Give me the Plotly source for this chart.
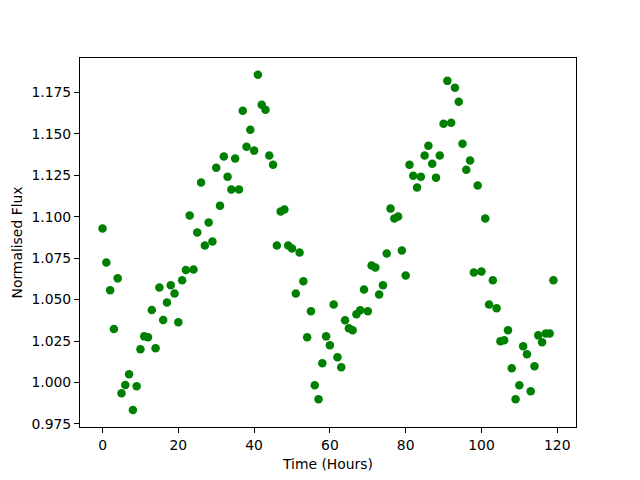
import plotly.graph_objects as go

hours = list(range(120))
flux = [
    1.0929, 1.0724, 1.0557, 1.0322, 1.0628, 0.9935, 0.9985, 1.0050, 0.9833, 0.9977,
    1.0200, 1.0278, 1.0272, 1.0437, 1.0206, 1.0573, 1.0377, 1.0483, 1.0587, 1.0537,
    1.0363, 1.0616, 1.0678, 1.1007, 1.0682, 1.0905, 1.1206, 1.0827, 1.0965, 1.0851,
    1.1296, 1.1067, 1.1363, 1.1242, 1.1164, 1.1351, 1.1164, 1.1640, 1.1423, 1.1525,
    1.1399, 1.1857, 1.1676, 1.1646, 1.1369, 1.1314, 1.0827, 1.1031, 1.1043, 1.0827,
    1.0808, 1.0537, 1.0784, 1.0610, 1.0272, 1.0429, 0.9983, 0.9899, 1.0116, 1.0278,
    1.0224, 1.0471, 1.0152, 1.0092, 1.0375, 1.0327, 1.0315, 1.0411, 1.0435, 1.0561,
    1.0429, 1.0706, 1.0694, 1.0531, 1.0586, 1.0778, 1.1049, 1.0989, 1.1001, 1.0796,
    1.0646, 1.1314, 1.1248, 1.1176, 1.1242, 1.1369, 1.1429, 1.1320, 1.1236, 1.1369,
    1.1561, 1.1820, 1.1567, 1.1778, 1.1694, 1.1441, 1.1284, 1.1339, 1.0664, 1.1188,
    1.0670, 1.0989, 1.0471, 1.0616, 1.0447, 1.0248, 1.0254, 1.0315, 1.0086, 0.9899,
    0.9983, 1.0218, 1.0170, 0.9947, 1.0098, 1.0284, 1.0242, 1.0296, 1.0296, 1.0616,
]
x_ticks = [0, 20, 40, 60, 80, 100, 120]
y_ticks = [0.975, 1.000, 1.025, 1.050, 1.075, 1.100, 1.125, 1.150, 1.175]
y_labels = [f"{v:.3f}" for v in y_ticks]

fig = go.Figure(go.Scatter(
    x=hours, y=flux, mode="markers",
    marker=dict(color="#008000", size=8.5, line=dict(width=0)),
))

font = dict(family="DejaVu Sans", size=13.9, color="black")
fig.update_layout(
    width=640, height=480,
    margin=dict(l=72, r=72, t=50, b=61),
    paper_bgcolor="white", plot_bgcolor="white",
    font=font, showlegend=False,
)
axis_common = dict(
    showgrid=False, zeroline=False, showline=True, mirror=True,
    linecolor="black", linewidth=1, ticks="outside", ticklen=5,
    tickwidth=1, tickcolor="black", tickfont=font, automargin=False,
)
fig.update_xaxes(range=[-5.95, 124.95], tickvals=x_ticks,
                 title=dict(text="Time (Hours)", font=font, standoff=7),
                 **axis_common)
fig.update_yaxes(range=[0.9731, 1.1958], tickvals=y_ticks, ticktext=y_labels,
                 title=dict(text="Normalised Flux", font=font, standoff=5),
                 **axis_common)

fig.write_html("out.html")
